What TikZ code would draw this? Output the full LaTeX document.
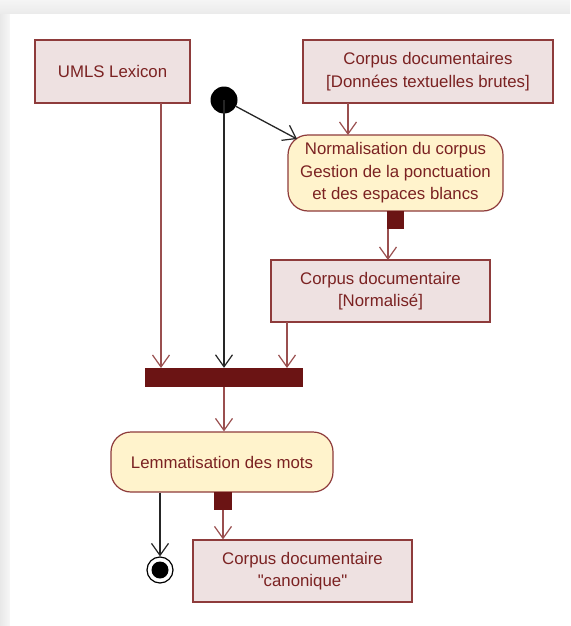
\documentclass[tikz,border=0pt]{standalone}
\usepackage{fontspec}
\setmainfont{Liberation Sans}
\newfontfamily\qfont{Liberation Sans}[Ligatures=ResetAll]
\usetikzlibrary{arrows.meta}
\definecolor{objfill}{HTML}{EEE1E1}
\definecolor{objdraw}{HTML}{8E3B3B}
\definecolor{txt}{HTML}{7B2222}
\definecolor{actfill}{HTML}{FFF3CC}
\definecolor{barcol}{HTML}{6B1414}
\definecolor{edgecol}{HTML}{9A4F4F}
\tikzset{
  x=1pt,y=-1pt,
  every node/.style={font=\fontsize{16.8}{22.5}\selectfont, text=txt, align=center, inner sep=0pt},
  objbox/.style={draw=objdraw, fill=objfill, line width=1.2pt, rectangle},
  actbox/.style={draw=objdraw, fill=actfill, line width=1.2pt, rectangle, rounded corners=20pt},
  tip/.style={-{Straight Barb[length=12pt,width=17pt,line width=1.2pt]}},
  redarrow/.style={tip, draw=edgecol, line width=1.3pt},
  blkarrow/.style={tip, draw=black!85, line width=1.3pt},
  barbox/.style={fill=barcol, draw=none, rectangle}
}
\begin{document}
\begin{tikzpicture}
\useasboundingbox (0,0) rectangle (570,626);
\fill[left color=black!9, right color=black!3] (0,0) rectangle (10,626);
\fill[top color=black!4, bottom color=black!8] (0,0) rectangle (570,14);
\fill[white] (10,14) rectangle (570,626);

\node[objbox, minimum width=155pt, minimum height=63pt] (umls) at (112.5,71.5) {UMLS Lexicon};
\node[objbox, minimum width=250pt, minimum height=63pt] (brut) at (428,71.5) {Corpus documentaires\\{[}Données textuelles brutes{]}};
\node[circle, fill=black, minimum size=27pt] (start) at (224,100) {};
\node[actbox, minimum width=215pt, minimum height=76pt] (norm) at (395.5,173) {Normalisation du corpus\\Gestion de la ponctuation\\et des espaces blancs};
\node[barbox, minimum width=17pt, minimum height=18pt, anchor=north] (p1) at (395.5,211) {};
\node[objbox, minimum width=219pt, minimum height=62pt] (normc) at (380.5,291) {Corpus documentaire\\{[}Normalisé{]}};
\node[barbox, minimum width=158pt, minimum height=19pt] (fork) at (224,377.5) {};
\node[actbox, minimum width=222pt, minimum height=60pt] (lem) at (222,462) {Lemmatisation des mots};
\node[barbox, minimum width=18pt, minimum height=18pt, anchor=north] (p2) at (223,492) {};
\node[objbox, minimum width=219pt, minimum height=62pt] (canon) at (302.5,571) {Corpus documentaire\\{\qfont"canonique"}};
\node[circle, draw=black, line width=1.2pt, fill=white, minimum size=26pt] (end) at (160,570) {};
\node[circle, fill=black, minimum size=17pt] (endin) at (end.center) {};

\draw[blkarrow] (start.center) -- (start.center |- fork.north);
\draw[blkarrow] (start) -- (297,139);
\draw[redarrow] (348,103) -- (348,135);
\draw[redarrow] (388,229) -- (388,260);
\draw[redarrow] (161,103) -- (161,368);
\draw[redarrow] (287,322) -- (287,368);
\draw[redarrow] (fork.south) -- (fork.south |- lem.north);
\draw[blkarrow] (end.north |- lem.south) -- (end.north);
\draw[redarrow] (p2.south) -- (p2.south |- canon.north);
\end{tikzpicture}
\end{document}
